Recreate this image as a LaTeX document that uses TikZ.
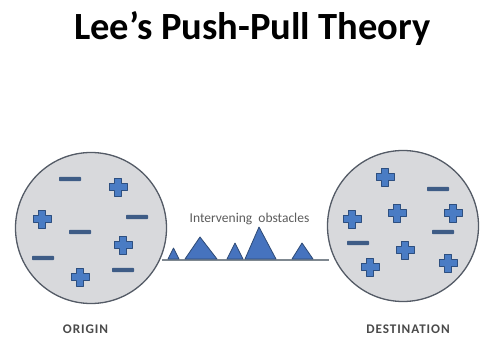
\documentclass[tikz,border=0pt]{standalone}
\usepackage{fontspec}
\setmainfont{Carlito}
\newfontfamily\spacedfont[LetterSpace=7]{Carlito}
\begin{document}
\begin{tikzpicture}[x=1pt,y=-1pt,
  region/.style={circle,draw=circedge,fill=circfill,line width=1.3pt,minimum size=151pt,inner sep=0pt},
  obst/.style={fill=obstfill,draw=obstedge,line width=0.8pt,line join=round},
  lbl/.style={text=lbltext,font=\spacedfont\fontsize{13.2}{15}\selectfont\bfseries,inner sep=0pt},
]
\definecolor{circedge}{HTML}{545B66}
\definecolor{circfill}{HTML}{D8D9DC}
\definecolor{obstfill}{HTML}{4673BE}
\definecolor{obstedge}{HTML}{2E4A75}
\definecolor{plusfill}{HTML}{4A7CC4}
\definecolor{plusedge}{HTML}{2D4F80}
\definecolor{minuscol}{HTML}{3E5C86}
\definecolor{lbltext}{HTML}{4A4A4A}
\definecolor{linecol}{HTML}{7F8890}
\useasboundingbox[fill=white] (0,0) rectangle (481,337);
\newcommand{\plusmark}[2]{\draw[fill=plusfill,draw=plusedge,line width=0.8pt,line join=round,shift={(#1,#2)}]
  (-3.2,-9) -- (3.2,-9) -- (3.2,-3.2) -- (9,-3.2) -- (9,3.2) -- (3.2,3.2) -- (3.2,9) -- (-3.2,9) -- (-3.2,3.2) -- (-9,3.2) -- (-9,-3.2) -- (-3.2,-3.2) -- cycle;}
\newcommand{\minusmark}[2]{\fill[minuscol,rounded corners=0.8pt,shift={(#1,#2)}] (-11,-2.2) rectangle (11,2.2);}
% title
\node[font=\fontsize{38.5}{44}\selectfont\bfseries,inner sep=0pt] (title) at (252.5,29) {Lee’s Push-Pull Theory};
% regions
\node[region] (origin) at (91,228) {};
\node[region] (dest) at (403,226) {};
\coordinate (la) at (162,260);
\coordinate (lb) at (329,260);
\draw[linecol,line width=1.2pt] (la) -- (lb);
% obstacles
\draw[obst] (168,259) -- (173.5,248) -- (179,259) -- cycle;
\draw[obst] (185,259) -- (200,237) -- (217,259) -- cycle;
\draw[obst] (227,259) -- (235,243) -- (243,259) -- cycle;
\draw[obst] (245,259) -- (259,227) -- (276,259) -- cycle;
\draw[obst] (292,259) -- (302,243) -- (313,259) -- cycle;
\node[text=lbltext!90,font=\fontsize{13.5}{15}\selectfont,inner sep=0pt] (obs) at (249.5,219) {Intervening\ \ obstacles};
% origin signs
\minusmark{70}{179}
\plusmark{118}{187}
\minusmark{137}{217}
\plusmark{42}{219}
\minusmark{80}{232}
\plusmark{123}{245}
\minusmark{43}{258}
\minusmark{123}{270}
\plusmark{80}{277}
% destination signs
\plusmark{385}{177}
\minusmark{438}{189}
\plusmark{397}{213}
\plusmark{352}{219}
\plusmark{453}{213}
\minusmark{443}{232}
\minusmark{358}{243}
\plusmark{405}{250}
\plusmark{370}{267}
\plusmark{448}{263}
% labels
\node[lbl] (ol) at (85.5,329) {ORIGIN};
\node[lbl] (dl) at (408,329) {DESTINATION};
\end{tikzpicture}
\end{document}
